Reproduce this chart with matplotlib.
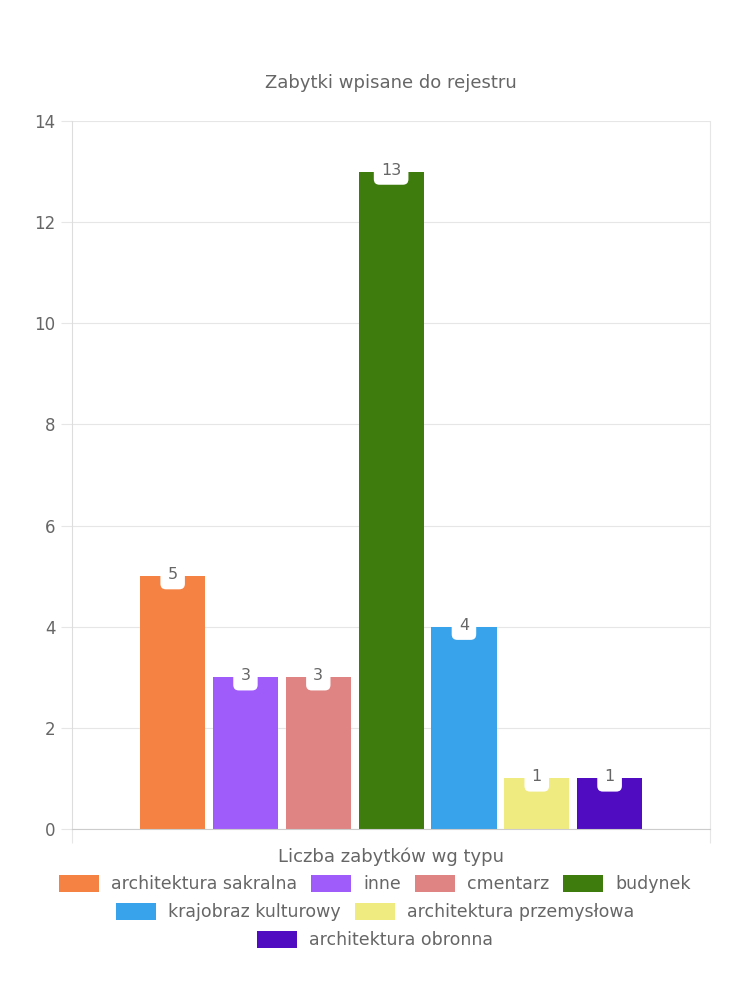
import matplotlib
matplotlib.use('Agg')
import matplotlib.pyplot as plt
from matplotlib.patches import Patch

plt.rcParams['font.family'] = ['DejaVu Sans']

# Dane
kategorie = ['architektura sakralna', 'inne', 'cmentarz', 'budynek',
             'krajobraz kulturowy', 'architektura przemysłowa', 'architektura obronna']
wartosci = [5, 3, 3, 13, 4, 1, 1]
kolory = ['#f58242', '#a05cfa', '#e08383', '#3e7c0d', '#38a3ea', '#f0eb80', '#4f0cc1']
tytul = 'Zabytki wpisane do rejestru'
etykieta_x = 'Liczba zabytków wg typu'
yticks = [0, 2, 4, 6, 8, 10, 12, 14]

szary = '#666666'

fig = plt.figure(figsize=(7.5, 10), dpi=100)
ax = fig.add_axes([0.096, 0.171, 0.851, 0.708])

# slupki w jednej grupie
szer = 0.102
odstep = 0.1141
start = 0.5 - odstep * 3
for i, (k, v, c) in enumerate(zip(kategorie, wartosci, kolory)):
    x = start + i * odstep
    ax.bar(x, v, width=szer, color=c, zorder=2)
    # etykieta w bialym zaokraglonym polu
    ax.text(x, v + 0.03, str(v), ha='center', va='center', fontsize=11.5, color=szary, zorder=4,
            bbox=dict(boxstyle='round,pad=0.45,rounding_size=0.35', fc='white', ec='none'))

ax.set_xlim(0, 1)
ax.set_ylim(0, 14)
ax.set_yticks(yticks)
ax.set_xticks([0, 1])
ax.set_xticklabels(['', ''])
ax.grid(axis='y', color='#e6e6e6', linewidth=0.8, zorder=0)
ax.spines['top'].set_visible(False)
ax.spines['right'].set_color('#e6e6e6')
ax.spines['left'].set_color('#dddddd')
ax.spines['bottom'].set_color('#cccccc')
ax.tick_params(axis='y', colors='#e6e6e6', labelcolor=szary, labelsize=12, length=8, pad=4)
ax.tick_params(axis='x', colors='#e6e6e6', length=10)
ax.set_title(tytul, fontsize=13, color=szary, pad=24)
ax.set_xlabel(etykieta_x, fontsize=13, color=szary, labelpad=0)

# legenda w trzech wierszach
uchwyty = [Patch(facecolor=c, edgecolor='none') for c in kolory]
wiersze = [(0, 4, 0.116), (4, 6, 0.088), (6, 7, 0.060)]
for a, b, y in wiersze:
    fig.legend(uchwyty[a:b], kategorie[a:b], loc='center', bbox_to_anchor=(0.5, y),
               ncol=b - a, frameon=False, fontsize=12.5, handlelength=2.3, handleheight=1.1,
               columnspacing=0.8, handletextpad=0.7, labelcolor=szary)

fig.savefig('out.png', dpi=100)
